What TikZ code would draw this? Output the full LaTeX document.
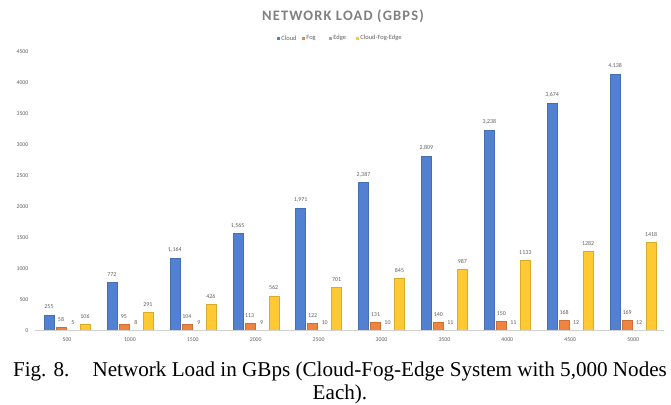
\documentclass[tikz,border=0pt]{standalone}
\usepackage{fontspec}
\setmainfont{Liberation Serif}
\newfontfamily\chartfont{Carlito}
\newfontfamily\titlefont[LetterSpace=8]{Carlito}
\usetikzlibrary{positioning}
\definecolor{cloudblue}{HTML}{5381D2}
\definecolor{fogorange}{HTML}{EE8440}
\definecolor{edgegray}{HTML}{A5A5A5}
\definecolor{cfegold}{HTML}{FFC933}
\definecolor{labelgray}{HTML}{5F5F5F}
\definecolor{axisgray}{HTML}{D0D0D0}

\begin{document}
\begin{tikzpicture}[x=1bp ,y=-1bp ,bar/.style ={fill=#1 ,draw=#1!85!black ,line width=0.3bp} ,val/.style ={font=\chartfont\fontsize{6}{7}\selectfont ,text=labelgray ,inner sep=0pt ,anchor=south} ,tick/.style ={font=\chartfont\fontsize{5.8}{7}\selectfont ,text=labelgray ,inner sep=0pt} ,keybox/.style ={minimum size=3bp ,inner sep=0pt ,fill=#1} ,key/.style ={font=\chartfont\fontsize{6.5}{7}\selectfont ,text=labelgray ,inner sep=0pt}]
\useasboundingbox (0,0) rectangle (671,404);
\node[font=\titlefont\bfseries\fontsize{14.5}{16}\selectfont ,text=black!50] (title) at (343,16) {NETWORK LOAD (GBPS)};
\node[keybox=cloudblue] (kc) at (278,38) {};
\node[key ,right=1.5bp of kc] (kct) {Cloud};
\node[keybox=fogorange] (kf) at (303,38) {};
\node[key ,right=1.5bp of kf] (kft) {Fog};
\node[keybox=edgegray] (ke) at (330,38) {};
\node[key ,right=1.5bp of ke] (ket) {Edge};
\node[keybox=cfegold] (kg) at (357,38) {};
\node[key ,right=1.5bp of kg] (kgt) {Cloud-Fog-Edge};
\foreach \v in {0,500,...,4500}
  \node[tick ,anchor=east] (y\v) at (28.5,{330.5-\v*0.062}) {\v};
\coordinate (axl) at (35,330.5);
\coordinate (axr) at (664,330.5);
\foreach \i/\c/\ct/\f/\e/\g in {0/255/255/58/5/106, 1/772/772/95/8/291, 2/1164/{1,164}/104/9/426, 3/1565/{1,565}/113/9/562, 4/1971/{1,971}/122/10/701, 5/2387/{2,387}/131/10/845, 6/2809/{2,809}/140/11/987, 7/3238/{3,238}/150/11/1133, 8/3674/{3,674}/168/12/1282, 9/4138/{4,138}/169/12/1418}
{
  \pgfmathsetmacro\cx{67+62.9*\i}
  \pgfmathtruncatemacro\n{500*(\i+1)}
  \filldraw[bar=cloudblue] (\cx-23,330.5) rectangle (\cx-13,{330.5-\c*0.062});
  \filldraw[bar=fogorange] (\cx-11,330.5) rectangle (\cx-1,{330.5-\f*0.062});
  \filldraw[bar=edgegray] (\cx+1,330.5) rectangle (\cx+11,{330.5-\e*0.062});
  \filldraw[bar=cfegold] (\cx+13,330.5) rectangle (\cx+23,{330.5-\g*0.062});
  \node[val] (c\i) at (\cx-18,{330.5-\c*0.062-5.5}) {\ct};
  \node[val] (f\i) at (\cx-6,{330.5-\f*0.062-5.5}) {\f};
  \node[val] (e\i) at (\cx+6,{330.5-\e*0.062-5.5}) {\e};
  \node[val] (g\i) at (\cx+18,{330.5-\g*0.062-5.5}) {\g};
  \node[tick] (x\i) at (\cx,340) {\n};
}
\draw[axisgray ,line width=0.7bp] (axl) -- (axr);
\node[align=center ,inner sep=0pt ,anchor=north ,font=\fontsize{21.2}{22.5}\selectfont] (caption) at (340,362) {Fig. 8.\hspace{1.1em}Network Load in GBps (Cloud-Fog-Edge System with 5,000 Nodes\\Each).};
\end{tikzpicture}
\end{document}
